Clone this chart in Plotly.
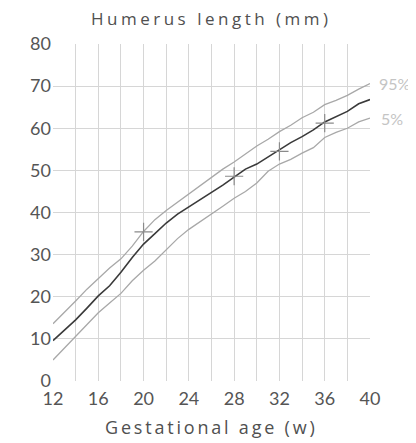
"""Humerus length reference chart"""

import plotly.graph_objects as go

WEEKS = list(range(12, 41))

MEAN = [9.6, 12.0, 14.5, 17.3, 20.2, 22.6, 25.8, 29.3, 32.5, 35.0, 37.5, 39.6, 41.3, 43.0,
        44.7, 46.5, 48.4, 50.3, 51.5, 53.2, 55.0, 56.6, 58.0, 59.6, 61.5, 62.7, 64.0, 65.8, 66.8]
P95 = [13.6, 16.2, 19.0, 21.8, 24.3, 26.8, 29.0, 32.0, 35.5, 38.3, 40.5, 42.5, 44.4, 46.4,
       48.4, 50.3, 52.0, 54.0, 55.8, 57.4, 59.2, 60.7, 62.5, 63.8, 65.6, 66.6, 67.8, 69.3, 70.6]
P5 = [5.0, 7.8, 10.5, 13.5, 16.2, 18.5, 20.8, 23.8, 26.3, 28.5, 31.2, 33.8, 36.0, 37.8,
      39.5, 41.5, 43.4, 45.0, 47.0, 49.8, 51.5, 52.6, 54.1, 55.4, 57.8, 59.0, 60.0, 61.5, 62.4]

CROSS_X = [20, 28, 32, 36]
CROSS_Y = [35.4, 48.6, 54.5, 61.2]

LABELS = ["95%", "5%"]

FONT = "Lato, 'Open Sans', sans-serif"
TITLE_FONT = "'Open Sans', Lato, sans-serif"
GRID = "#d6d6d6"

# ページの body に 8px の余白が付くので、その分だけ図を小さくする
fig = go.Figure()
fig.add_trace(go.Scatter(x=WEEKS, y=P95, mode="lines", line=dict(color="#a8a8a8", width=1.3)))
fig.add_trace(go.Scatter(x=WEEKS, y=P5, mode="lines", line=dict(color="#a8a8a8", width=1.3)))
fig.add_trace(go.Scatter(x=WEEKS, y=MEAN, mode="lines", line=dict(color="#3a3a3a", width=1.6)))
fig.add_trace(go.Scatter(
    x=CROSS_X, y=CROSS_Y, mode="markers",
    marker=dict(symbol="cross-thin", size=13, line=dict(color="#8a8a8a", width=1.2)),
))

fig.add_annotation(x=WEEKS[-1], y=P95[-1], text=LABELS[0], showarrow=False,
                   xanchor="left", yanchor="middle", xshift=7,
                   font=dict(family=FONT, size=16, color="#c4c4c4"))
fig.add_annotation(x=WEEKS[-1], y=P5[-1], text=LABELS[1], showarrow=False,
                   xanchor="left", yanchor="middle", xshift=9,
                   font=dict(family=FONT, size=16, color="#c4c4c4"))

fig.add_annotation(x=0.5, y=1, xref="paper", yref="paper", yshift=26,
                   text='<span style="letter-spacing:3.5px">Humerus length (mm)</span>',
                   showarrow=False, yanchor="middle",
                   font=dict(family=TITLE_FONT, size=17, color="#505050"))
fig.add_annotation(x=0.5, y=0, xref="paper", yref="paper", yshift=-46,
                   text='<span style="letter-spacing:2.8px">Gestational age (w)</span>',
                   showarrow=False, yanchor="middle",
                   font=dict(family=TITLE_FONT, size=18, color="#505050"))

fig.update_layout(
    width=408, height=435,
    margin=dict(l=45, r=46, t=36, b=62),
    plot_bgcolor="white", paper_bgcolor="white",
    showlegend=False,
    xaxis=dict(
        range=[12, 40], tickvals=list(range(12, 41, 4)),
        showgrid=True, gridcolor=GRID, gridwidth=1,
        minor=dict(dtick=2, tick0=12, showgrid=True, gridcolor=GRID, gridwidth=1),
        zeroline=False, showline=False,
        tickfont=dict(family=FONT, size=18, color="#555555"),
        ticks="", ticklabelstandoff=5,
    ),
    yaxis=dict(
        range=[0, 80], dtick=10,
        showgrid=True, gridcolor=GRID, gridwidth=1,
        zeroline=False, showline=False,
        tickfont=dict(family=FONT, size=18, color="#555555"),
        ticks="", ticklabelstandoff=1,
    ),
)

fig.write_html("out.html")
